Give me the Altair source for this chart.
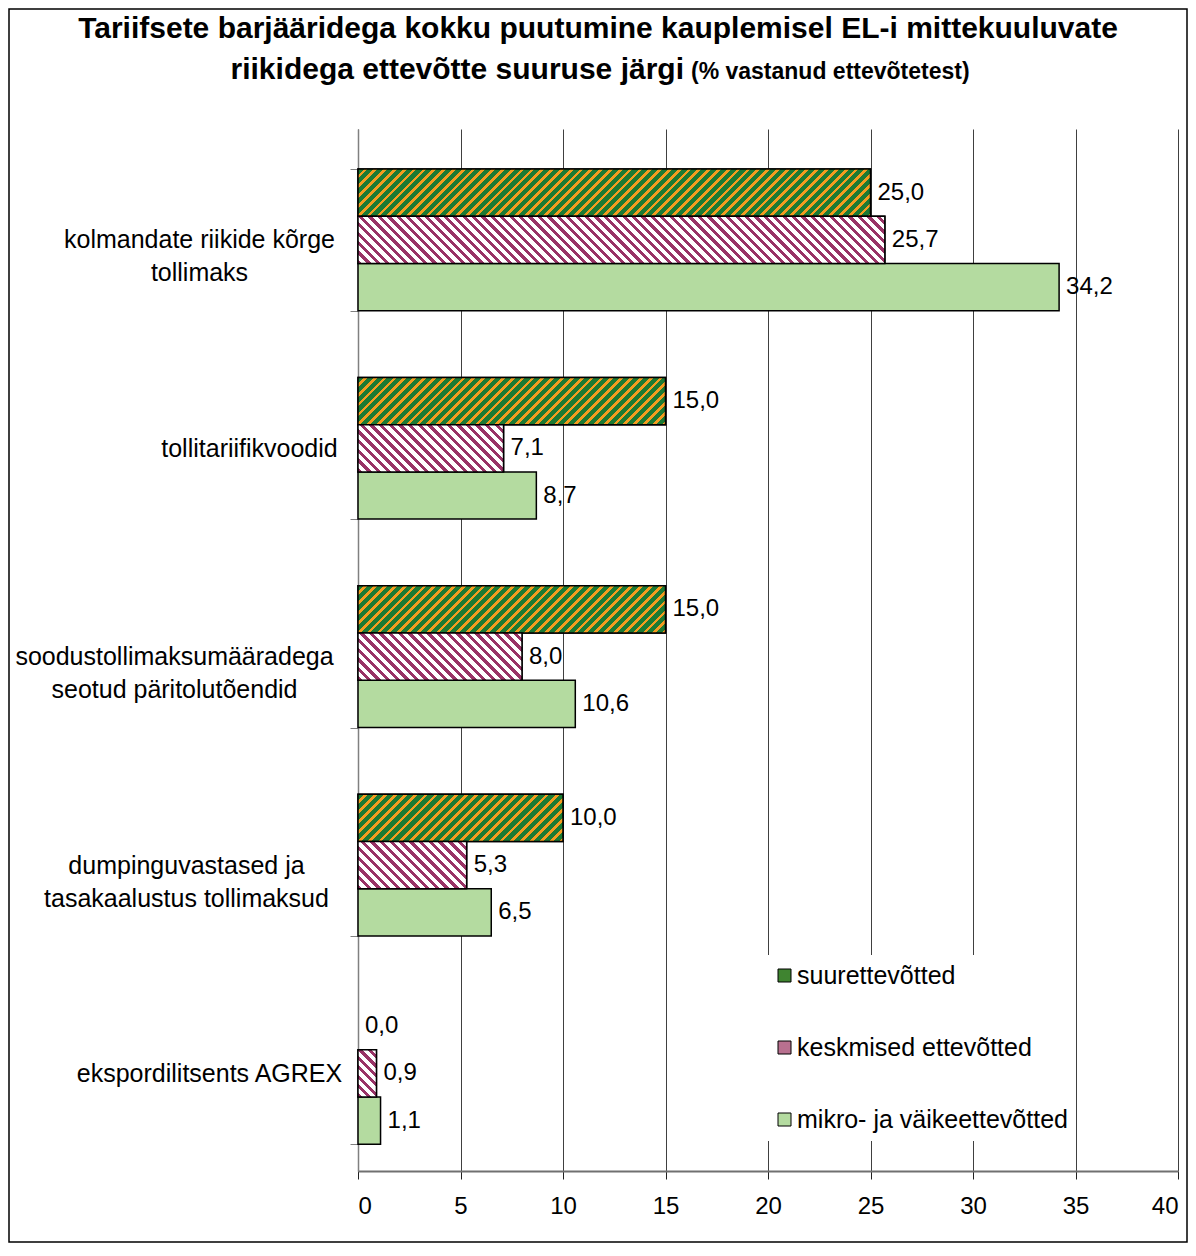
import math
import altair as alt
import pandas as pd

# ---------------- data ----------------
categories = [
    "kolmandate riikide kõrge|tollimaks",
    "tollitariifikvoodid",
    "soodustollimaksumääradega|seotud päritolutõendid",
    "dumpinguvastased ja|tasakaalustus tollimaksud",
    "ekspordilitsents AGREX",
]
series = ["suurettevõtted", "keskmised ettevõtted", "mikro- ja väikeettevõtted"]
large = [25.0, 15.0, 15.0, 10.0, 0.0]
medium = [25.7, 7.1, 8.0, 5.3, 0.9]
small = [34.2, 8.7, 10.6, 6.5, 1.1]
x_ticks = [0, 5, 10, 15, 20, 25, 30, 35, 40]

title_line1 = "Tariifsete barjääridega kokku puutumine kauplemisel EL-i mittekuuluvate"
title_line2 = "riikidega ettevõtte suuruse järgi"
title_note = "(% vastanud ettevõtetest)"

values_by_series = [large, medium, small]
rows = []
for i, c in enumerate(categories):
    for j, s in enumerate(series):
        rows.append({"category": c, "series": s, "value": values_by_series[j][i]})
df = pd.DataFrame(rows)

# ---------------- layout / style ----------------
W_PLOT, H_PLOT = 820, 1042
PAD_INNER, PAD_OUTER = 0.32, 0.16
FONT = "Liberation Sans"
label_pads = [151, 101, 176, 164, 141]
legend_colors = ["#3f8430", "#b8708f", "#b4dba0"]

px_per_unit = W_PLOT / 40.0
step = H_PLOT / (len(categories) - PAD_INNER + 2 * PAD_OUTER)
bar_h = step * (1 - PAD_INNER) / 3.0


def stripes(w, h, period, frac, ca, cb, rising):
    k = (w + h) / (w * w + h * h)
    n = max(1, round((w + h) / (math.sqrt(2) * period)))
    stops = []
    for i in range(n):
        a0 = round(i / n, 5)
        a1 = round((i + frac) / n, 5)
        b1 = round((i + 1) / n, 5)
        stops += [
            {"offset": a0, "color": ca},
            {"offset": a1, "color": ca},
            {"offset": a1, "color": cb},
            {"offset": b1, "color": cb},
        ]
    if rising:
        x1, y1, x2, y2 = 0, 0, k * w, k * h
    else:
        x1, y1, x2, y2 = 0, 1, k * w, 1 - k * h
    return {"gradient": "linear", "x1": x1, "y1": y1, "x2": x2, "y2": y2, "stops": stops}


label_pad = {
    "condition": [
        {"test": f"datum.value === '{c}'", "value": p} for c, p in zip(categories, label_pads)
    ],
    "value": 120,
}

x_enc = alt.X(
    "value:Q",
    scale=alt.Scale(domain=[0, 40], nice=False),
    axis=alt.Axis(
        title=None, values=x_ticks, grid=True, gridColor="#404040", gridWidth=1,
        domainColor="#707070", domainWidth=2, tickColor="#202020", tickSize=8,
        labelFontSize=24, labelFont=FONT, labelColor="black", labelPadding=15,
    ),
)
y_enc = alt.Y(
    "category:N",
    sort=categories,
    scale=alt.Scale(domain=categories, paddingInner=PAD_INNER, paddingOuter=PAD_OUTER, align=0.6),
    axis=alt.Axis(
        title=None, grid=False, tickBand="extent", tickSize=8, tickColor="#808080",
        domainColor="#808080", domainWidth=1.5, labelFontSize=25, labelFont=FONT,
        labelColor="black", labelAlign="center", labelLimit=0, labelLineHeight=33,
        labelPadding=label_pad, labelExpr="split(datum.label, '|')",
    ),
)
yoff_enc = alt.YOffset("series:N", sort=series, scale=alt.Scale(domain=series))

base = alt.Chart(df).mark_bar(stroke="black", strokeWidth=1.5).encode(
    x=x_enc,
    y=y_enc,
    yOffset=yoff_enc,
    strokeOpacity=alt.condition("datum.value > 0", alt.value(1), alt.value(0)),
    color=alt.Color(
        "series:N",
        sort=series,
        scale=alt.Scale(domain=series, range=legend_colors),
        legend=alt.Legend(
            title=None, orient="none", legendX=406, legendY=826, fillColor="white",
            padding=8, labelFontSize=25, labelFont=FONT, labelColor="black", labelLimit=0,
            symbolType="square", symbolSize=169, symbolStrokeColor="black",
            symbolStrokeWidth=1, symbolOpacity=1, rowPadding=46, labelOffset=0,
        ),
    ),
)

layers = [base]
stripe_styles = {
    series[0]: dict(period=7.0, frac=0.62, ca="#1c7a33", cb="#f39c1f", rising=True),
    series[1]: dict(period=6.7, frac=0.45, ca="#993366", cb="#ffffff", rising=False),
}
for i, c in enumerate(categories):
    for s, st in stripe_styles.items():
        v = values_by_series[series.index(s)][i]
        if v <= 0:
            continue
        grad = stripes(v * px_per_unit, bar_h, st["period"], st["frac"], st["ca"], st["cb"], st["rising"])
        layers.append(
            alt.Chart(df)
            .transform_filter((alt.datum.category == c) & (alt.datum.series == s))
            .mark_bar(fill=grad, stroke="black", strokeWidth=1.5)
            .encode(x=x_enc, y=y_enc, yOffset=yoff_enc)
        )

labels = (
    alt.Chart(df)
    .transform_calculate(label="replace(format(datum.value, '.1f'), '.', ',')")
    .mark_text(align="left", baseline="middle", dx=7, fontSize=24, font=FONT, color="black")
    .encode(x=x_enc, y=y_enc, yOffset=yoff_enc, text="label:N")
)
layers.append(labels)

t1 = alt.Chart(pd.DataFrame({"t": [title_line1]})).mark_text(
    align="center", baseline="alphabetic", fontSize=30, fontWeight="bold", font=FONT, color="black"
).encode(x=alt.value(240), y=alt.value(-91), text="t:N")
t2 = alt.Chart(pd.DataFrame({"t": [title_line2]})).mark_text(
    align="right", baseline="alphabetic", fontSize=30, fontWeight="bold", font=FONT, color="black"
).encode(x=alt.value(326), y=alt.value(-50), text="t:N")
t3 = alt.Chart(pd.DataFrame({"t": [title_note]})).mark_text(
    align="left", baseline="alphabetic", fontSize=23, fontWeight="bold", font=FONT, color="black"
).encode(x=alt.value(333), y=alt.value(-50), text="t:N")

frame = alt.Chart(pd.DataFrame({"a": [0]})).mark_rect(
    filled=False, stroke="black", strokeWidth=1.5
).encode(
    x=alt.value(-349), x2=alt.value(W_PLOT + 9), y=alt.value(-120), y2=alt.value(H_PLOT + 71)
)

chart = (
    alt.layer(*layers, t1, t2, t3, frame)
    .properties(
        width=W_PLOT,
        height=H_PLOT,
        autosize=alt.AutoSizeParams(type="none"),
        padding={"left": 350, "top": 121, "right": 10, "bottom": 72},
        background="white",
    )
    .configure_view(stroke="transparent")
)

chart.save("out.html", embed_options={"renderer": "svg", "actions": False})
